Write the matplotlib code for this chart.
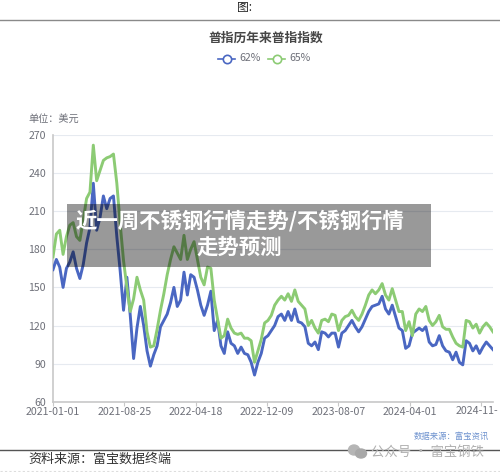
import numpy as np
import matplotlib
matplotlib.use("Agg")
import matplotlib.pyplot as plt
from matplotlib.patches import Rectangle, Ellipse

plt.rcParams["font.family"] = ["Noto Sans CJK SC", "DejaVu Sans"]

# one sample every 8 trading days
step = 8
blue_62 = [164, 172, 166, 150, 165, 170, 178, 165, 157, 168, 185, 197, 232, 195, 205, 222, 212, 220, 222, 190,
           163, 132, 158, 128, 94, 118, 135, 120, 100, 88, 97, 104, 119, 124, 129, 138, 150, 135, 140, 162,
           144, 160, 158, 148, 136, 128, 136, 147, 116, 124, 104, 98, 115, 106, 104, 98, 103, 98, 97, 91,
           81, 91, 98, 110, 112, 116, 120, 127, 129, 124, 131, 124, 133, 123, 122, 119, 106, 104, 107, 101,
           115, 114, 111, 114, 114, 103, 114, 116, 120, 124, 119, 115, 119, 125, 131, 135, 136, 137, 143, 133,
           129, 136, 127, 118, 116, 102, 104, 114, 116, 118, 116, 119, 107, 104, 105, 112, 104, 100, 99, 93,
           99, 91, 89, 108, 106, 100, 104, 98, 103, 107, 104, 101]
green_65 = [174, 192, 195, 176, 190, 199, 201, 190, 187, 203, 220, 225, 262, 234, 242, 250, 252, 253, 255, 232,
            200, 171, 150, 131, 141, 158, 148, 140, 115, 103, 104, 117, 132, 145, 160, 172, 182, 177, 172, 191,
            172, 180, 186, 172, 158, 152, 166, 165, 140, 125, 110, 112, 125, 118, 114, 113, 114, 110, 110, 108,
            91, 100, 109, 122, 124, 128, 136, 140, 143, 140, 145, 139, 148, 139, 136, 133, 120, 124, 118, 114,
            124, 125, 123, 129, 128, 116, 124, 127, 128, 132, 127, 124, 129, 136, 144, 148, 145, 148, 153, 144,
            140, 149, 140, 131, 131, 116, 123, 112, 129, 133, 131, 135, 124, 120, 123, 128, 119, 117, 117, 111,
            106, 104, 103, 124, 123, 118, 121, 114, 119, 122, 119, 115]
tick_labels = ["2021-01-01", "2021-08-25", "2022-04-18", "2022-12-09", "2023-08-07", "2024-04-01", ""]
last_tick_label = "2024-11-"
tick_days = [0, 170, 340, 510, 680, 850, 1020]
y_ticks = [60, 90, 120, 150, 180, 210, 240, 270]

days = np.arange(len(blue_62)) * step

fig = plt.figure(figsize=(5, 4.72), dpi=100)
W, H = 500, 472

# chart axes, placed by pixel box
left, right, top, bottom = 53, 493, 135, 401.7
ax = fig.add_axes([left / W, 1 - bottom / H, (right - left) / W, (bottom - top) / H])
ax.plot(days, blue_62, color="#4a67c2", lw=2.1, solid_joinstyle="round", zorder=3)
ax.plot(days, green_65, color="#8ccb74", lw=2.1, solid_joinstyle="round", zorder=4)
ax.set_xlim(0, days[-1])
ax.set_ylim(60, 270)
ax.set_yticks(y_ticks)
ax.set_xticks(tick_days)
ax.set_xticklabels(tick_labels)
ax.grid(axis="y", color="#e6eaf0", lw=0.8)
ax.set_axisbelow(True)
for s in ["top", "right"]:
    ax.spines[s].set_visible(False)
for s in ["left", "bottom"]:
    ax.spines[s].set_color("#c8c8c8")
    ax.spines[s].set_linewidth(1.2)
ax.tick_params(axis="y", length=0, labelsize=7.6, labelcolor="#6e7079", pad=5)
ax.tick_params(axis="x", length=3, color="#c8c8c8", labelsize=7.6, labelcolor="#6e7079", pad=0.5)

# page furniture in pixel coordinates
bg = fig.add_axes([0, 0, 1, 1], zorder=5)
bg.set_xlim(0, W)
bg.set_ylim(H, 0)
bg.axis("off")
bg.patch.set_alpha(0)

# original label runs off the page, so start it where the reference does
bg.text(456, 411, last_tick_label, va="center", fontsize=7.6, color="#6e7079")

bg.text(245, 8, "图:", ha="center", va="center", fontsize=8.5, color="#222222")
bg.plot([0, W], [19.5, 19.5], color="#8a8a8a", lw=1)
bg.text(266, 38.5, "普指历年来普指指数", ha="center", va="center", fontsize=9.2, fontweight="bold", color="#464646")

# legend
bg.plot([218, 235], [58.5, 58.5], color="#4a67c2", lw=1.2)
bg.plot([226.5], [58.5], "o", ms=6, mfc="white", mec="#4a67c2", mew=1.2)
bg.text(239, 58, "62%", va="center", fontsize=7.6, color="#6e7079")
bg.plot([268, 285], [58.5, 58.5], color="#8ccb74", lw=1.2)
bg.plot([276.5], [58.5], "o", ms=6, mfc="white", mec="#8ccb74", mew=1.2)
bg.text(289, 58, "65%", va="center", fontsize=7.6, color="#6e7079")

bg.text(28, 119, "单位：美元", va="center", fontsize=7.3, color="#6e7079")
bg.text(489, 436, "数据来源：富宝资讯", ha="right", va="center", fontsize=6, color="#6f93cf")

bg.plot([0, W], [449.5, 449.5], color="#555555", lw=1)
bg.plot([0, W], [470.5, 470.5], color="#dddddd", lw=0.8, ls=(0, (2, 2)))
bg.text(28, 459, "资料来源：富宝数据终端", va="center", fontsize=9.4, color="#333333")

# watermark
bg.add_patch(Ellipse((354, 450), 11, 10, color="#b5b5b5", zorder=6))
bg.add_patch(Ellipse((361, 453.5), 11, 9, color="#a8a8a8", zorder=6))
bg.text(484, 452, "公众号 · 富宝钢铁", ha="right", va="center", fontsize=9.6, color="#b0b0b0", zorder=6)

# grey headline band over the chart
bg.add_patch(Rectangle((67, 204), 364, 63, color="black", alpha=0.4, lw=0, zorder=7))
bg.text(239.5, 221, "近一周不锈钢行情走势/不锈钢行情", ha="center", va="center", fontsize=15.4,
        fontweight="bold", color="white", zorder=8)
bg.text(239.5, 247, "走势预测", ha="center", va="center", fontsize=15.4,
        fontweight="bold", color="white", zorder=8)

fig.savefig("out.png", dpi=100)
